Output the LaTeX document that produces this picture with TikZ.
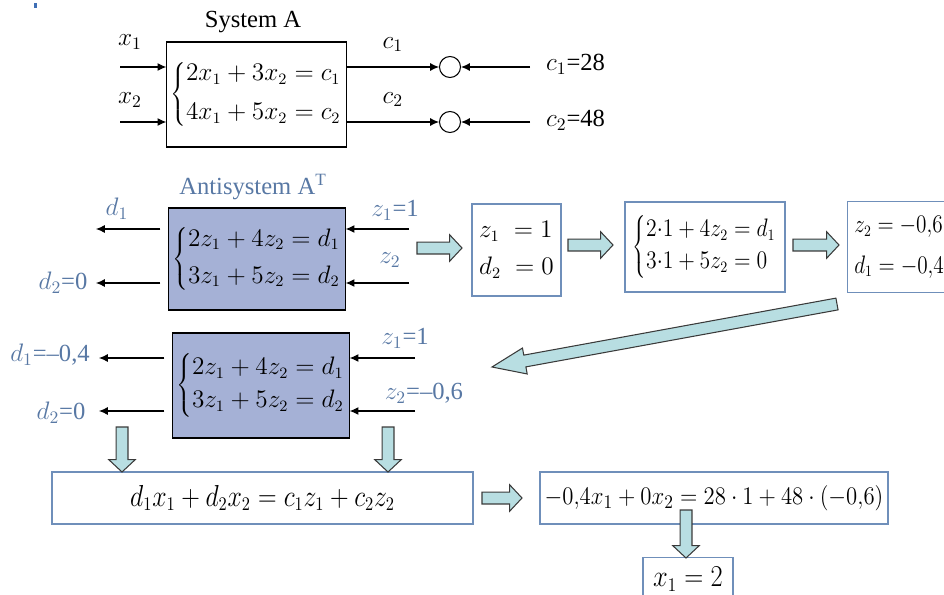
\documentclass[tikz,border=0pt]{standalone}
\usepackage{graphicx}
\usepackage{fontspec}
\setmainfont{Liberation Serif}
\usetikzlibrary{arrows.meta, positioning, calc}
\definecolor{asText}{HTML}{5878A4}
\definecolor{asFill}{HTML}{A5B1D6}
\definecolor{asLine}{HTML}{6F8FBA}
\definecolor{asArrow}{HTML}{B8DEE2}
\definecolor{asDark}{HTML}{3A3A3A}
\definecolor{asDot}{HTML}{3F6FB5}
\tikzset{
  fatarr/.style={fill=asArrow, draw=asDark, line width=0.6pt, line join=miter},
}
% block arrow from #2 to #3, head length #1
\newcommand\fatarrow[3][7pt]{%
  \coordinate (fah) at ($(#3)!#1!(#2)$);
  \draw[fatarr] ($(#2)!3.4pt!90:(#3)$) -- ($(fah)!3.4pt!90:(#3)$)
    -- ($(fah)!7.5pt!90:(#3)$) -- (#3) -- ($(fah)!7.5pt!-90:(#3)$)
    -- ($(fah)!3.4pt!-90:(#3)$) -- ($(#2)!3.4pt!-90:(#3)$) -- cycle;}

\begin{document}
\begin{tikzpicture}[x=0.02cm, y=-0.02cm, font=\fontsize{14pt}{17pt}\selectfont,
  eq/.style={font=\fontsize{13.5pt}{16pt}\selectfont},
  sysbox/.style={rectangle, draw, line width=0.6pt, inner sep=2pt, eq},
  antibox/.style={sysbox, fill=asFill},
  resbox/.style={rectangle, draw=asLine, line width=0.8pt, inner sep=2pt, eq},
  cmp/.style={circle, draw, line width=0.6pt, minimum size=0.42cm, inner sep=0pt},
  lbl/.style={text=asText, inner sep=0pt},
  sig/.style={-{Latex[length=5pt,width=4.5pt]}, line width=0.6pt}]
  \clip (0,0) rectangle (944,595);
  \fill[asDot] (34,3) rectangle (37,8);

  % system A
  \node[sysbox, minimum width=3.46cm, minimum height=2.1cm] (sysA) at (256.5,94.5)
    {$\left\{\begin{array}{@{}l@{}}2x_1+3x_2=c_1\\[6pt]4x_1+5x_2=c_2\end{array}\right.$};
  \node at (253,22) {System A};
  \coordinate (x1in) at (120,67);
  \coordinate (x2in) at (120,122);
  \draw[sig] (x1in) -- (sysA.west |- x1in);
  \draw[sig] (x2in) -- (sysA.west |- x2in);
  \node at (130,42) {$x_1$};
  \node at (130,100) {$x_2$};
  \node[cmp] (k1) at (450,67) {};
  \node[cmp] (k2) at (450,122) {};
  \draw[sig] (sysA.east |- k1) -- node[above=5pt]{$c_1$} (k1);
  \draw[sig] (sysA.east |- k2) -- node[above=5pt]{$c_2$} (k2);
  \coordinate (c1in) at (530,67);
  \coordinate (c2in) at (530,122);
  \draw[sig] (c1in) -- (k1);
  \draw[sig] (c2in) -- (k2);
  \node[anchor=west] at (540,64) {$c_1$=28};
  \node[anchor=west] at (540,120) {$c_2$=48};

  % antisystem, first pass
  \node[lbl] at (253,187) {Antisystem A\textsuperscript{T}};
  \node[antibox, minimum width=3.44cm, minimum height=2.04cm] (anti1) at (257,259)
    {$\left\{\begin{array}{@{}l@{}}2z_1+4z_2=d_1\\[5pt]3z_1+5z_2=d_2\end{array}\right.$};
  \coordinate (d1a) at (96,229);
  \coordinate (d2a) at (96,283);
  \coordinate (z1a) at (409,229);
  \coordinate (z2a) at (409,283);
  \draw[sig, shorten <=4.5pt] (anti1.west |- d1a) -- (d1a);
  \draw[sig, shorten <=4.5pt] (anti1.west |- d2a) -- (d2a);
  \draw[sig] (z1a) -- (anti1.east |- z1a);
  \draw[sig] (z2a) -- (anti1.east |- z2a);
  \node[lbl] at (117,209) {$d_1$};
  \node[lbl] at (63,283) {$d_2$=0};
  \node[lbl] at (395,210) {$z_1$=1};
  \node[lbl] at (390,260) {$z_2$};

  % solving steps
  \node[resbox, align=left, minimum width=1.78cm, minimum height=1.84cm] (zres) at (516.5,250)
    {$z_1\;=1$\\[5pt]$d_2\;=0$};
  \node[resbox, minimum width=3.2cm, minimum height=1.8cm] (sres) at (705,247)
    {\scalebox{0.86}[1]{$\left\{\begin{array}{@{}l@{}}2{\cdot}1+4z_2=d_1\\[2pt]3{\cdot}1+5z_2=0\end{array}\right.$}};
  \node[resbox, minimum width=2.4cm, minimum height=1.82cm, anchor=north west] (z2res) at (847,201) {};
  \node[eq, anchor=west, align=left, inner sep=0pt, right=4pt of z2res.west]
    {\scalebox{0.84}[1]{$z_2=-0{,}6$}\\[7pt]\scalebox{0.84}[1]{$d_1=-0{,}4$}};
  \coordinate (fa1s) at (417,248); \coordinate (fa1e) at (462,248);
  \coordinate (fa2s) at (568,245); \coordinate (fa2e) at (613,245);
  \coordinate (fa3s) at (793,245); \coordinate (fa3e) at (839,245);
  \coordinate (fa4s) at (837,304); \coordinate (fa4e) at (492,367);
  \fatarrow{fa1s}{fa1e}
  \fatarrow{fa2s}{fa2e}
  \fatarrow{fa3s}{fa3e}
  \fatarrow[19pt]{fa4s}{fa4e}

  % antisystem, second pass
  \node[antibox, minimum width=3.48cm, minimum height=2.1cm] (anti2) at (261,385.5)
    {$\left\{\begin{array}{@{}l@{}}2z_1+4z_2=d_1\\[3pt]3z_1+5z_2=d_2\end{array}\right.$};
  \coordinate (d1b) at (99,358);
  \coordinate (d2b) at (99,411);
  \coordinate (z1b) at (415,358);
  \coordinate (z2b) at (415,411);
  \draw[sig, shorten <=4.5pt] (anti2.west |- d1b) -- (d1b);
  \draw[sig, shorten <=4.5pt] (anti2.west |- d2b) -- (d2b);
  \draw[sig] (z1b) -- (anti2.east |- z1b);
  \draw[sig] (z2b) -- (anti2.east |- z2b);
  \node[lbl] at (50,355) {$d_1$=–0,4};
  \node[lbl] at (61,413) {$d_2$=0};
  \node[lbl] at (405,338) {$z_1$=1};
  \node[lbl] at (424,393) {$z_2$=–0,6};

  % duality relation
  \node[resbox, minimum width=8.42cm, minimum height=1.04cm] (dual) at (262.5,498)
    {\fontsize{16pt}{19pt}\selectfont\scalebox{0.85}[1]{$d_1x_1+d_2x_2=c_1z_1+c_2z_2$}};
  \node[resbox, minimum width=6.96cm, minimum height=1.04cm] (subst) at (714,498)
    {\fontsize{15pt}{18pt}\selectfont\scalebox{0.9}[1]{$-0{,}4x_1+0x_2=28\cdot1+48\cdot(-0{,}6)$}};
  \node[resbox, minimum width=1.8cm, minimum height=0.86cm, anchor=north] (sol) at (688,557)
    {\fontsize{16pt}{19pt}\selectfont\scalebox{0.87}[1]{$x_1=2$}};
  \coordinate (fa5s) at (122,427); \coordinate (fa5e) at (122,472);
  \coordinate (fa6s) at (388,427); \coordinate (fa6e) at (388,472);
  \coordinate (fa7s) at (482,498); \coordinate (fa7e) at (522,498);
  \coordinate (fa8s) at (686,510); \coordinate (fa8e) at (686,558);
  \fatarrow{fa5s}{fa5e}
  \fatarrow{fa6s}{fa6e}
  \fatarrow{fa7s}{fa7e}
  \fatarrow{fa8s}{fa8e}
\end{tikzpicture}
\end{document}
